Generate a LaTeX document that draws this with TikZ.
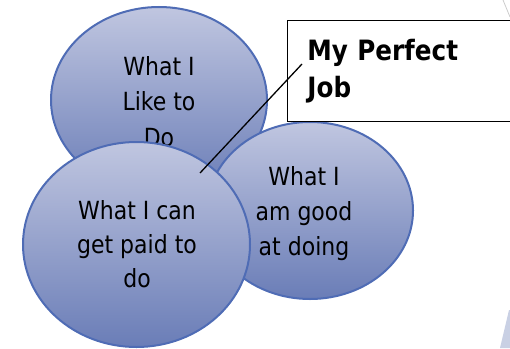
\documentclass[tikz,border=0pt]{standalone}
\usepackage{fontspec}
\setmainfont{DejaVu Sans}[FakeStretch=0.88]
\usetikzlibrary{shapes.geometric}

\definecolor{blobtop}{HTML}{C0C6E0}
\definecolor{blobbot}{HTML}{6A7DB7}
\definecolor{blobline}{HTML}{4F6CB5}
\definecolor{slidebg}{HTML}{C9D0E4}

\begin{document}
\begin{tikzpicture}[x=1pt,y=-1pt]
  \tikzstyle{blob}=[ellipse,draw=blobline,line width=2pt,top color=blobtop,bottom color=blobbot,inner sep=0pt]
  \tikzstyle{blobtext}=[align=center,inner sep=0pt,anchor=base,font=\fontsize{25}{35}\selectfont]
  \tikzstyle{jobbox}=[rectangle,draw=black,fill=white,line width=0.8pt,anchor=north west,align=left,inner xsep=20pt,text width=188pt,minimum width=228pt,minimum height=101pt,font=\bfseries\fontsize{28}{37}\selectfont]

  \useasboundingbox (0,0) rectangle (510,348);

  % slide background bits
  \draw[gray!40,line width=0.8pt] (503,0) -- (510,17);
  \fill[slidebg] (509,310) -- (500,348) -- (512,348) -- (512,310) -- cycle;

  \node[blob,minimum width=216pt,minimum height=186pt] (like) at (159,100) {};
  \node[blobtext,font=\fontsize{25}{35.5}\selectfont] (liketext) at (159,146) {What I\\Like to\\Do};
  \node[blob,minimum width=206pt,minimum height=177pt] (good) at (310,210.5) {};
  \node[blobtext] (goodtext) at (304,255) {What I\\am good\\at doing};
  \node[blob,minimum width=227pt,minimum height=205pt] (paid) at (136.5,244.5) {};
  \node[blobtext,font=\fontsize{25}{34}\selectfont] (paidtext) at (137,287) {What I can\\get paid to\\do};

  \node[jobbox] (job) at (287,20) {My Perfect\\Job};

  \coordinate (pin) at (302,64);
  \coordinate (spot) at (200,173);
  \draw[line width=1.3pt] (pin) -- (spot);
\end{tikzpicture}
\end{document}
